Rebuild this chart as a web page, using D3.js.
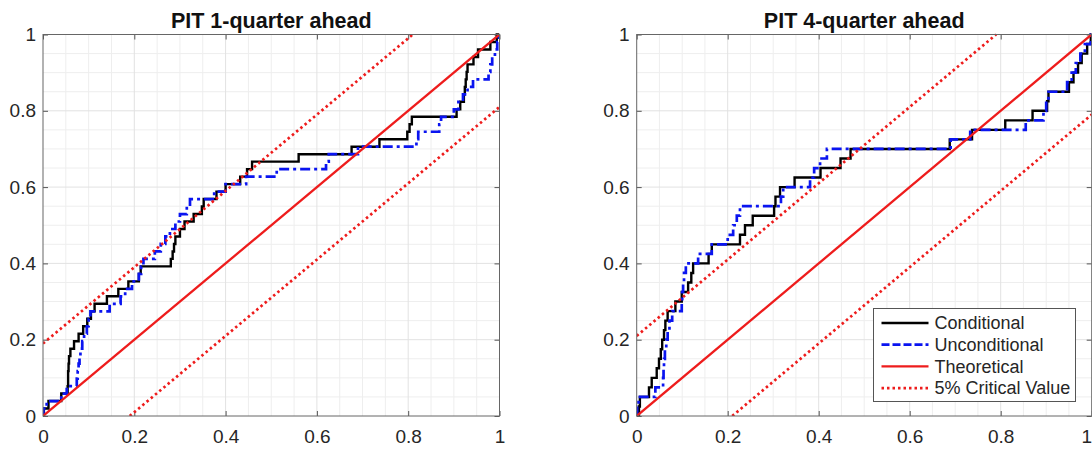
<!DOCTYPE html>
<html>
<head>
<meta charset="utf-8">
<script src="https://cdn.jsdelivr.net/npm/d3@7"></script>
<style>
  body { margin: 0; background: #fff; }
  svg { display: block; font-family: "Liberation Sans", Arial, Helvetica, sans-serif; }
  .tick text { fill: #262626; font-size: 19px; }
  .tick line { stroke: #555; }
  .domain { display: none; }
</style>
</head>
<body>
<div id="chart"></div>
<script>
// sorted PIT values (x position of each step of the empirical CDF)
const condQ1 = [0.002, 0.012, 0.040, 0.054, 0.055, 0.055, 0.056, 0.057, 0.060, 0.068,
  0.078, 0.088, 0.097, 0.105, 0.113, 0.140, 0.165, 0.187, 0.210, 0.214,
  0.280, 0.284, 0.287, 0.290, 0.300, 0.310, 0.330, 0.348, 0.352, 0.380,
  0.400, 0.432, 0.447, 0.458, 0.560, 0.676, 0.737, 0.798, 0.803, 0.808,
  0.906, 0.914, 0.922, 0.924, 0.926, 0.928, 0.930, 0.943, 0.953, 0.980, 0.994];
const uncondQ1 = [0.001, 0.008, 0.040, 0.052, 0.074, 0.076, 0.078, 0.080, 0.082, 0.086,
  0.090, 0.096, 0.100, 0.104, 0.146, 0.170, 0.180, 0.195, 0.210, 0.215,
  0.220, 0.245, 0.258, 0.268, 0.278, 0.290, 0.300, 0.315, 0.322, 0.375,
  0.400, 0.445, 0.512, 0.620, 0.626, 0.690, 0.818, 0.822, 0.868, 0.872,
  0.900, 0.910, 0.920, 0.930, 0.942, 0.976, 0.980, 0.984, 0.990, 0.995, 0.999];
const condQ4 = [0.005, 0.007, 0.027, 0.033, 0.044, 0.049, 0.053, 0.056, 0.060, 0.063,
  0.068, 0.085, 0.099, 0.113, 0.120, 0.124, 0.158, 0.165, 0.227, 0.238,
  0.255, 0.302, 0.305, 0.315, 0.347, 0.404, 0.448, 0.470, 0.688, 0.737,
  0.810, 0.870, 0.902, 0.905, 0.950, 0.960, 0.970, 0.978, 0.990, 0.998];
const uncondQ4 = [0.001, 0.004, 0.041, 0.058, 0.059, 0.060, 0.062, 0.065, 0.068, 0.072,
  0.078, 0.099, 0.100, 0.102, 0.104, 0.108, 0.135, 0.165, 0.200, 0.212,
  0.220, 0.227, 0.317, 0.322, 0.381, 0.390, 0.403, 0.418, 0.690, 0.733,
  0.855, 0.894, 0.900, 0.905, 0.946, 0.956, 0.965, 0.975, 0.985, 0.998];

const critQ1 = 0.19;
const critQ4 = 0.21;

const titles = ['PIT 1-quarter ahead', 'PIT 4-quarter ahead'];
const tickValues = [0, 0.2, 0.4, 0.6, 0.8, 1];
const tickLabels = ['0', '0.2', '0.4', '0.6', '0.8', '1'];
const legendLabels = ['Conditional', 'Unconditional', 'Theoretical', '5% Critical Value'];

const W = 1092, H = 449;
const svg = d3.select('#chart').append('svg')
  .attr('width', W)
  .attr('height', H);

const styles = [
  { stroke: '#000', width: 2.4, dash: null },
  { stroke: '#0a14f0', width: 2.7, dash: '10,4,3,4' },
  { stroke: '#ee1c1c', width: 2.3, dash: null },
  { stroke: '#ee1c1c', width: 2.7, dash: '2.5,3' }
];

function drawPanel(left, right, title, cond, uncond, crit, showLegend) {
  const top = 34.5, bottom = 416;
  const x = d3.scaleLinear().domain([0, 1]).range([left, right]);
  const y = d3.scaleLinear().domain([0, 1]).range([bottom, top]);
  const g = svg.append('g');

  // grid, minor then major
  const minor = d3.range(0.05, 1, 0.05).filter(v => Math.abs(v * 5 - Math.round(v * 5)) > 1e-6);
  const grid = g.append('g');
  minor.forEach(v => {
    grid.append('line').attr('x1', x(v)).attr('x2', x(v)).attr('y1', top).attr('y2', bottom)
      .attr('stroke', '#eeeeee').attr('stroke-width', 1);
    grid.append('line').attr('x1', left).attr('x2', right).attr('y1', y(v)).attr('y2', y(v))
      .attr('stroke', '#eeeeee').attr('stroke-width', 1);
  });
  tickValues.slice(1, -1).forEach(v => {
    grid.append('line').attr('x1', x(v)).attr('x2', x(v)).attr('y1', top).attr('y2', bottom)
      .attr('stroke', '#e2e2e2').attr('stroke-width', 1);
    grid.append('line').attr('x1', left).attr('x2', right).attr('y1', y(v)).attr('y2', y(v))
      .attr('stroke', '#e2e2e2').attr('stroke-width', 1);
  });

  // axes with inward ticks (box on)
  const fmt = (d, i) => tickLabels[i];
  const xAxis = g.append('g').attr('transform', 'translate(0,' + bottom + ')')
    .call(d3.axisBottom(x).tickValues(tickValues).tickFormat(fmt).tickSize(-5).tickPadding(14));
  // last label would fall off the page edge on the right panel
  if (right > W - 10) {
    xAxis.selectAll('.tick:last-of-type text').attr('text-anchor', 'end').attr('dx', 0);
  }
  g.append('g').attr('transform', 'translate(' + left + ',0)')
    .call(d3.axisLeft(y).tickValues(tickValues).tickFormat(fmt).tickSize(-5).tickPadding(7));
  g.append('g').attr('transform', 'translate(0,' + top + ')')
    .call(d3.axisTop(x).tickValues(tickValues).tickFormat('').tickSize(-5));
  g.append('g').attr('transform', 'translate(' + right + ',0)')
    .call(d3.axisRight(y).tickValues(tickValues).tickFormat('').tickSize(-5));

  // clip for data lines
  const clipId = 'clip' + Math.round(left);
  g.append('clipPath').attr('id', clipId).append('rect')
    .attr('x', left).attr('y', top - 2).attr('width', right - left).attr('height', bottom - top + 2);
  const plot = g.append('g').attr('clip-path', 'url(#' + clipId + ')');

  const step = d3.line().x(d => x(d[0])).y(d => y(d[1])).curve(d3.curveStepAfter);
  const straight = d3.line().x(d => x(d[0])).y(d => y(d[1]));
  const ecdf = vals => [[0, 0]].concat(vals.map((v, i) => [v, (i + 1) / vals.length]), [[1, 1]]);

  const series = [
    { pts: ecdf(cond), line: step, s: styles[0] },
    { pts: ecdf(uncond), line: step, s: styles[1] },
    { pts: [[0, 0], [1, 1]], line: straight, s: styles[2] },
    { pts: [[0, crit], [1 - crit, 1]], line: straight, s: styles[3] },
    { pts: [[crit, 0], [1, 1 - crit]], line: straight, s: styles[3] }
  ];
  series.forEach(d => {
    plot.append('path')
      .attr('d', d.line(d.pts))
      .attr('fill', 'none')
      .attr('stroke', d.s.stroke)
      .attr('stroke-width', d.s.width)
      .attr('stroke-dasharray', d.s.dash);
  });

  // box
  g.append('rect').attr('x', left).attr('y', top).attr('width', right - left).attr('height', bottom - top)
    .attr('fill', 'none').attr('stroke', '#666').attr('stroke-width', 1);

  g.append('text')
    .attr('x', (left + right) / 2).attr('y', 28)
    .attr('text-anchor', 'middle')
    .attr('font-size', 21.5).attr('font-weight', 'bold').attr('fill', '#111')
    .text(title);

  if (showLegend) {
    const lg = g.append('g').attr('transform', 'translate(873.5,308.5)');
    lg.append('rect').attr('width', 202).attr('height', 93)
      .attr('fill', '#fff').attr('stroke', '#555').attr('stroke-width', 1);
    legendLabels.forEach((label, i) => {
      const s = styles[i];
      const ly = 14.5 + i * 21.7;
      lg.append('line').attr('x1', 8).attr('x2', 55).attr('y1', ly).attr('y2', ly)
        .attr('stroke', s.stroke).attr('stroke-width', s.width)
        .attr('stroke-dasharray', i === 1 ? '8,3' : s.dash);
      lg.append('text').attr('x', 61).attr('y', ly).attr('dy', '0.35em')
        .attr('font-size', 18).attr('fill', '#262626')
        .text(label);
    });
  }
}

drawPanel(43, 499.5, titles[0], condQ1, uncondQ1, critQ1, false);
drawPanel(636.7, 1091.7, titles[1], condQ4, uncondQ4, critQ4, true);
</script>
</body>
</html>
